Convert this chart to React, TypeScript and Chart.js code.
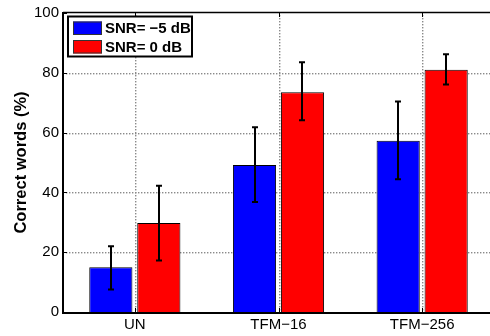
import React, { useEffect, useRef } from "react";
import { Chart, registerables } from "chart.js";

Chart.register(...registerables);

const categories = ["UN", "TFM−16", "TFM−256"];
const seriesLabels = ["SNR= −5 dB", "SNR= 0 dB"];
const seriesColors = ["#0000ff", "#ff0000"];
const snrMinus5 = [15, 49.2, 57.3];
const snr0 = [29.8, 73.5, 81];
const snrMinus5Low = [7.5, 36.8, 44.4];
const snrMinus5High = [22, 61.8, 70.4];
const snr0Low = [17.2, 64.1, 76.1];
const snr0High = [42.2, 83.5, 86.2];
const yTicks = [0, 20, 40, 60, 80, 100];
const yTitle = "Correct words (%)";

const FONT = '"Liberation Sans", Arial, Helvetica, sans-serif';

const errorBars = {
  id: "errorBars",
  afterDatasetsDraw(chart: any) {
    const ctx = chart.ctx;
    const y = chart.scales.y;
    chart.data.datasets.forEach((ds: any, di: number) => {
      const meta = chart.getDatasetMeta(di);
      meta.data.forEach((el: any, j: number) => {
        const lo = y.getPixelForValue(ds.errLow[j]);
        const hi = y.getPixelForValue(ds.errHigh[j]);
        const x = Math.round(el.x);
        ctx.save();
        ctx.strokeStyle = "#000";
        ctx.lineWidth = 2;
        ctx.beginPath();
        ctx.moveTo(x, lo);
        ctx.lineTo(x, hi);
        ctx.moveTo(x - 3, lo);
        ctx.lineTo(x + 3, lo);
        ctx.moveTo(x - 3, hi);
        ctx.lineTo(x + 3, hi);
        ctx.stroke();
        ctx.restore();
      });
    });
  },
};

const dottedGrid = {
  id: "dottedGrid",
  beforeDatasetsDraw(chart: any) {
    const ctx = chart.ctx;
    const { left, right, top, bottom } = chart.chartArea;
    const y = chart.scales.y;
    const x = chart.scales.x;
    ctx.save();
    ctx.fillStyle = "#8a8a8a";
    yTicks.forEach((v) => {
      if (v === yTicks[0] || v === yTicks[yTicks.length - 1]) return;
      const py = Math.round(y.getPixelForValue(v));
      for (let px = Math.round(left) + 3; px < right; px += 3) {
        ctx.fillRect(px, py, 1.4, 1.4);
      }
    });
    categories.forEach((_, i) => {
      const px = Math.round(x.getPixelForValue(i));
      for (let py = Math.round(top) + 2; py < bottom; py += 3) {
        ctx.fillRect(px, py, 1.4, 1.4);
      }
    });
    ctx.restore();
  },
};

const axesAndLegend = {
  id: "axesAndLegend",
  afterDraw(chart: any) {
    const ctx = chart.ctx;
    const { left, right, top, bottom } = chart.chartArea;
    const y = chart.scales.y;
    const x = chart.scales.x;
    ctx.save();
    ctx.strokeStyle = "#000";
    ctx.lineWidth = 1.5;
    ctx.beginPath();
    ctx.moveTo(left, top - 0.5);
    ctx.lineTo(right, top - 0.5);
    ctx.stroke();
    ctx.lineWidth = 2;
    ctx.beginPath();
    ctx.moveTo(left, top - 1);
    ctx.lineTo(left, bottom + 1);
    ctx.lineTo(right, bottom + 1);
    ctx.stroke();
    ctx.lineWidth = 1;
    ctx.beginPath();
    yTicks.forEach((v) => {
      const py = Math.round(y.getPixelForValue(v)) + 0.5;
      ctx.moveTo(left, py);
      ctx.lineTo(left + 4, py);
    });
    categories.forEach((_, i) => {
      const px = Math.round(x.getPixelForValue(i)) + 0.5;
      ctx.moveTo(px, top);
      ctx.lineTo(px, top + 4);
      ctx.moveTo(px, bottom);
      ctx.lineTo(px, bottom - 4);
    });
    ctx.stroke();

    const bx = left + 5;
    const by = top + 3.5;
    const bw = 124;
    const bh = 40;
    ctx.fillStyle = "#fff";
    ctx.fillRect(bx, by, bw, bh);
    ctx.lineWidth = 2;
    ctx.strokeRect(bx, by, bw, bh);
    ctx.font = `bold 15px ${FONT}`;
    ctx.textBaseline = "middle";
    ctx.textAlign = "left";
    chart.data.datasets.forEach((ds: any, i: number) => {
      const sy = by + 5 + i * 18.5;
      ctx.fillStyle = ds.backgroundColor;
      ctx.fillRect(bx + 5, sy, 29, 13.5);
      ctx.lineWidth = 1;
      ctx.strokeStyle = "#333";
      ctx.strokeRect(bx + 5.5, sy + 0.5, 28, 12.5);
      ctx.fillStyle = "#000";
      ctx.fillText(ds.label, bx + 37, sy + 7.5);
    });
    ctx.restore();
  },
};

export default function App() {
  const ref = useRef<HTMLCanvasElement | null>(null);

  useEffect(() => {
    if (!ref.current) return;
    const chart = new Chart(ref.current, {
      type: "bar",
      data: {
        labels: categories,
        datasets: [
          {
            label: seriesLabels[0],
            data: snrMinus5,
            backgroundColor: seriesColors[0],
            borderColor: "#000",
            borderWidth: 1,
            errLow: snrMinus5Low,
            errHigh: snrMinus5High,
            categoryPercentage: 0.668,
            barPercentage: 0.9,
          } as any,
          {
            label: seriesLabels[1],
            data: snr0,
            backgroundColor: seriesColors[1],
            borderColor: "#000",
            borderWidth: 1,
            errLow: snr0Low,
            errHigh: snr0High,
            categoryPercentage: 0.668,
            barPercentage: 0.9,
          } as any,
        ],
      },
      options: {
        responsive: false,
        animation: false,
        devicePixelRatio: 1,
        layout: { padding: { top: 9, right: 6, left: 0, bottom: 0 } },
        plugins: {
          legend: { display: false },
          tooltip: { enabled: false },
        },
        scales: {
          x: {
            offset: true,
            grid: { display: false, drawTicks: false },
            border: { display: false },
            ticks: {
              color: "#000",
              font: { family: FONT, size: 15 },
              padding: 4,
            },
            afterFit: (scale: any) => {
              scale.height = 24;
            },
          },
          y: {
            min: 0,
            max: 100,
            afterBuildTicks: (scale: any) => {
              scale.ticks = yTicks.map((v) => ({ value: v }));
            },
            grid: { display: false, drawTicks: false },
            border: { display: false },
            ticks: {
              color: "#000",
              font: { family: FONT, size: 15 },
              padding: 4,
            },
            title: {
              display: true,
              text: yTitle,
              color: "#000",
              font: { family: FONT, size: 16.5, weight: "bold" },
              padding: { top: 12, bottom: 0 },
            },
            afterFit: (scale: any) => {
              scale.width = 63;
            },
          },
        },
      },
      plugins: [dottedGrid, errorBars, axesAndLegend],
    });
    return () => chart.destroy();
  }, []);

  return (
    <div
      style={{
        position: "fixed",
        left: 0,
        top: 0,
        width: 490,
        height: 336,
        overflow: "hidden",
        background: "#fff",
      }}
    >
      <canvas ref={ref} width={500} height={336} style={{ display: "block" }} />
    </div>
  );
}
